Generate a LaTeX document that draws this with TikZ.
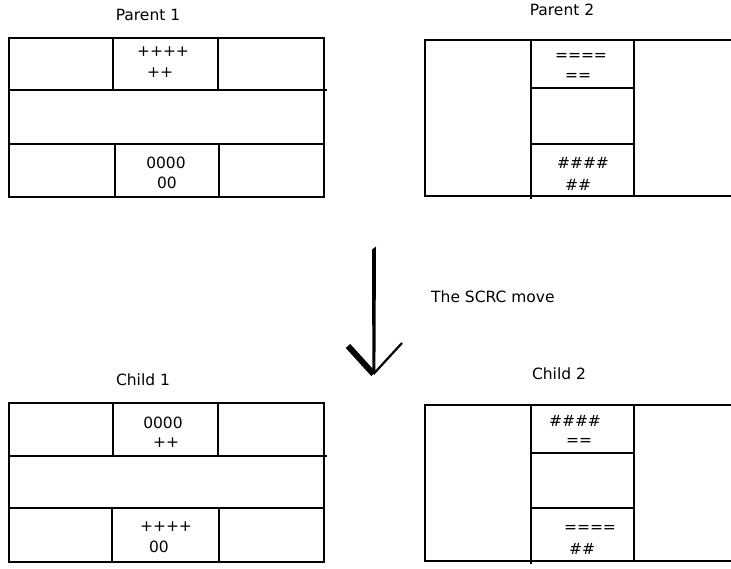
\documentclass[tikz,border=0pt]{standalone}
\usepackage{fontspec}
\setmainfont{DejaVu Sans}
\begin{document}
\begin{tikzpicture}[x=1pt,y=-1pt,
  grid/.style={line width=2.5pt,line cap=rect},
  lbl/.style={inner sep=0pt,font=\fontsize{15.5}{18}\selectfont},
  cell/.style={inner sep=0pt,font=\fontsize{15.5}{18}\selectfont}]
\useasboundingbox (0,0) rectangle (731,568);
% ---------- Parent 1 ----------
\node[lbl] (p1t) at (148,15) {Parent 1};
\draw[grid] (9,38) rectangle (324,197);
\draw[grid] (9,90) -- (326,90);
\draw[grid] (9,144) -- (324,144);
\draw[grid] (113,38) -- (113,90);
\draw[grid] (218,38) -- (218,90);
\draw[grid] (115,144) -- (115,196);
\draw[grid] (219,144) -- (219,195);
\node[cell] (p1a) at (163,52) {++++};
\node[cell] (p1b) at (160,73) {++};
\node[cell] (p1c) at (166,163) {0000};
\node[cell] (p1d) at (167,183) {00};
% ---------- Parent 2 ----------
\node[lbl] (p2t) at (562,10) {Parent 2};
\draw[grid] (731,40) -- (425,40) -- (425,196) -- (731,196);
\draw[grid] (531,40) -- (531,198);
\draw[grid] (634,42) -- (634,196);
\draw[grid] (531,88) -- (634,88);
\draw[grid] (531,144) -- (634,144);
\node[cell] (p2a) at (581,57) {====};
\node[cell] (p2b) at (578,77) {==};
\node[cell] (p2c) at (583,163) {\#\#\#\#};
\node[cell] (p2d) at (578,185) {\#\#};
% ---------- Arrow ----------
\coordinate (atop) at (374,247);
\coordinate (atip) at (373.5,374);
\fill (372,249.5) -- (376,246.5) -- (375.4,372) -- (372.4,372) -- cycle;
\draw[line width=6pt] (348,346) -- (atip);
\draw[line width=2.2pt] (402,343) -- (atip);
\node[lbl,anchor=west] (mv) at (431,297) {The SCRC move};
% ---------- Child 1 ----------
\node[lbl] (c1t) at (143,380) {Child 1};
\draw[grid] (9,403) rectangle (324,562);
\draw[grid] (9,456) -- (326,456);
\draw[grid] (9,508) -- (324,508);
\draw[grid] (113,403) -- (113,456);
\draw[grid] (218,403) -- (218,456);
\draw[grid] (112,508) -- (112,562);
\draw[grid] (219,508) -- (219,560);
\node[cell] (c1a) at (163,423) {0000};
\node[cell] (c1b) at (166,443) {++};
\node[cell] (c1c) at (166,527) {++++};
\node[cell] (c1d) at (159,547) {00};
% ---------- Child 2 ----------
\node[lbl] (c2t) at (559,374) {Child 2};
\draw[grid] (731,405) -- (425,405) -- (425,561) -- (731,561);
\draw[grid] (531,405) -- (531,563);
\draw[grid] (634,407) -- (634,561);
\draw[grid] (531,453) -- (634,453);
\draw[grid] (531,508) -- (634,508);
\node[cell] (c2a) at (575,421) {\#\#\#\#};
\node[cell] (c2b) at (579,442) {==};
\node[cell] (c2c) at (590,529) {====};
\node[cell] (c2d) at (582,549) {\#\#};
\end{tikzpicture}
\end{document}
